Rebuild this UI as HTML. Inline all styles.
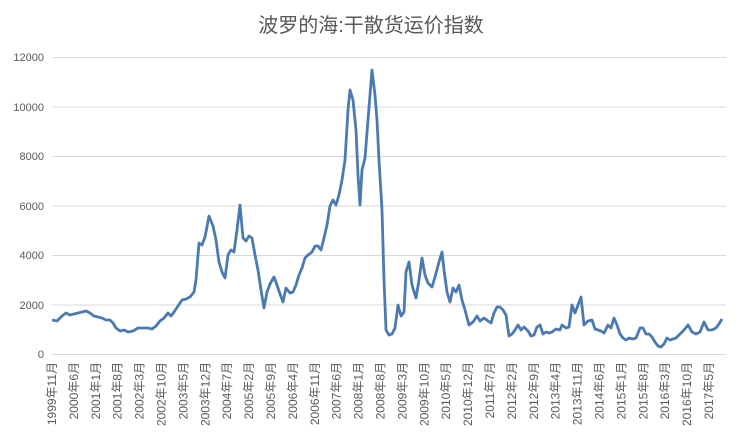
<!DOCTYPE html>
<html><head><meta charset="utf-8"><style>
html,body{margin:0;padding:0;background:#fff;}
svg{display:block;font-family:"Liberation Sans","Noto Sans CJK SC",sans-serif;}
</style></head><body>
<svg width="742" height="447" viewBox="0 0 742 447">
<rect width="742" height="447" fill="#fff"/>
<text x="371" y="32" text-anchor="middle" font-size="20" fill="#595959">波罗的海:干散货运价指数</text>
<g stroke="#d9d9d9" stroke-width="1">
<line x1="52" x2="726" y1="57.5" y2="57.5"/>
<line x1="52" x2="726" y1="107" y2="107"/>
<line x1="52" x2="726" y1="156.5" y2="156.5"/>
<line x1="52" x2="726" y1="206" y2="206"/>
<line x1="52" x2="726" y1="255.5" y2="255.5"/>
<line x1="52" x2="726" y1="305" y2="305"/>
<line x1="52" x2="726" y1="354.5" y2="354.5"/>
</g>
<g font-size="11" fill="#595959" text-anchor="end">
<text x="44" y="61">12000</text><text x="44" y="111">10000</text><text x="44" y="160">8000</text>
<text x="44" y="210">6000</text><text x="44" y="259">4000</text><text x="44" y="309">2000</text><text x="44" y="358">0</text>
</g>
<g font-size="12" fill="#595959" text-anchor="end" id="xl"></g>
<polyline fill="none" stroke="#4a7ab0" stroke-width="2.8" stroke-linejoin="round" points="52,320 57,321 62,316 66,313 70,315 74,314 78,313 82,312 86,311 90,313 94,316 98,317 102,318 106,320 110,320 113,323 116,328 120,331 124,330 128,332 133,331 138,328 143,328 148,328 152,329 156,326 160,321 164,318 168,313 171,316 174,312 178,306 182,300 186,299 190,297 194,292 196,280 199,243 202,245 205,237 209,216 213,226 216,240 219,262 222,272 225,278 228,255 231,250 234,252 237,230 240,205 243,238 246,241 249,236 252,238 255,255 258,270 261,290 264,308 267,292 270,284 274,277 277,285 280,294 283,302 286,288 290,293 293,292 296,285 299,275 302,268 305,258 308,255 312,252 315,246 318,246 321,250 324,238 327,225 330,206 333,200 336,205 339,195 342,180 345,160 348,110 350,90 353,100 356,130 358,175 360,205 362,170 365,158 368,120 370,95 372,70 375,95 377,120 379,160 382,210 384,280 386,330 389,335 392,334 395,328 398,305 401,316 404,312 406,272 409,262 412,285 416,298 419,280 422,258 425,275 428,283 432,287 435,277 439,262 442,252 444,270 447,292 450,302 453,288 456,292 459,285 462,300 465,310 469,325 473,322 477,316 480,321 484,318 488,321 491,323 494,313 497,307 500,307 503,310 506,315 509,336 512,334 515,330 518,325 521,330 524,327 528,331 531,336 534,335 537,327 540,325 543,334 546,332 549,333 552,332 556,329 560,330 562,325 566,328 569,327 572,305 575,313 578,305 581,297 584,325 588,321 592,320 595,329 598,330 601,331 604,333 608,325 611,328 614,318 617,325 620,334 623,338 626,340 629,338 633,339 636,338 640,328 643,328 646,334 649,334 652,337 655,342 658,346 661,347 664,344 667,338 670,340 673,339 676,338 680,334 684,330 688,325 692,332 696,334 700,332 704,322 708,330 712,330 716,328 719,324 722,319"/>
</svg>
<script>
var labels=["1999年11月","2000年6月","2001年1月","2001年8月","2002年3月","2002年10月","2003年5月","2003年12月","2004年7月","2005年2月","2005年9月","2006年4月","2006年11月","2007年6月","2008年1月","2008年8月","2009年3月","2009年10月","2010年5月","2010年12月","2011年7月","2012年2月","2012年9月","2013年4月","2013年11月","2014年6月","2015年1月","2015年8月","2016年3月","2016年10月","2017年5月"];
var g=document.getElementById('xl'),ns="http://www.w3.org/2000/svg";
labels.forEach(function(l,i){var x=52+i*21.9+4;var t=document.createElementNS(ns,'text');t.setAttribute('transform','translate('+x+',362) rotate(-90)');t.textContent=l;g.appendChild(t);});
</script>
</body></html>
